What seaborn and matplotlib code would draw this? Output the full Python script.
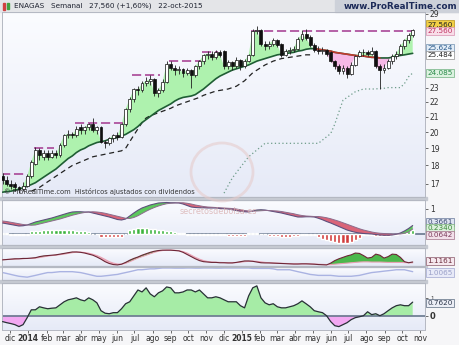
import numpy as np
import pandas as pd
import matplotlib
matplotlib.use("Agg")
import matplotlib.pyplot as plt
from matplotlib.ticker import NullLocator
from matplotlib.patches import Rectangle, Ellipse
from matplotlib.colors import LinearSegmentedColormap
import seaborn as sns

sns.set_theme(style="white")
plt.rcParams['font.family'] = ['DejaVu Sans']

nan = np.nan
weeks = pd.date_range('2013-11-18', periods=101, freq='W-MON')

opens = [17.4,17.2,17.0,17.0,16.8,16.7,16.9,17.4,18.1,18.9,
 18.5,18.7,18.5,18.7,18.6,19.2,19.8,19.9,19.8,20.3,
 20.1,20.3,20.5,20.1,20.3,19.4,19.3,19.6,19.8,19.7,
 20.5,21.5,22.2,22.9,22.8,23.3,23.5,23.6,22.6,22.8,
 23.4,24.8,24.5,24.3,24.4,24.1,24.3,23.9,24.6,25.0,
 25.5,25.6,25.3,25.7,25.8,24.6,24.9,24.6,25.1,24.6,
 25.0,25.5,27.5,27.6,26.4,26.2,26.4,26.7,26.4,25.5,
 25.8,25.9,26.0,26.8,27.2,27.0,26.3,25.9,25.8,25.9,
 25.7,25.0,24.6,24.2,24.5,24.0,24.7,25.4,25.7,25.7,
 25.6,25.8,24.6,24.3,24.5,25.0,25.4,25.6,26.2,26.7,
 27.1]
highs = [17.6,17.4,17.2,17.1,16.9,17.1,17.5,18.3,19.1,19.0,
 18.9,18.9,18.9,18.9,19.3,19.9,20.1,20.0,20.4,20.5,
 20.4,20.6,20.9,20.4,20.4,19.5,19.7,19.9,20.0,20.6,
 21.6,22.3,23.0,23.1,23.5,23.8,23.9,23.7,23.0,23.6,
 25.0,25.0,24.7,24.6,24.5,24.5,24.4,24.7,25.1,25.6,
 25.8,25.8,25.9,25.9,25.9,25.1,25.0,25.3,25.2,25.2,
 25.6,27.7,27.9,27.7,26.6,26.6,26.9,26.8,26.5,26.0,
 26.1,26.2,27.0,27.6,27.7,27.1,26.5,26.2,26.1,26.0,
 25.8,25.1,24.8,24.7,24.6,24.9,25.5,25.9,26.0,25.9,
 26.1,25.9,24.8,24.8,25.2,25.6,25.8,26.4,26.8,27.3,
 27.7]
lows = [17.0,16.9,16.7,16.6,16.5,16.6,16.8,17.3,18.0,18.3,
 18.3,18.3,18.4,18.4,18.5,19.1,19.6,19.6,19.7,19.9,
 19.9,20.1,20.0,19.9,19.3,19.0,19.2,19.4,19.5,19.6,
 20.4,21.3,22.0,22.5,22.7,23.1,23.2,22.4,22.3,22.7,
 23.3,24.3,23.9,24.0,23.8,23.9,23.0,23.8,24.4,24.8,
 25.2,25.1,25.2,25.3,24.4,24.4,24.3,24.5,24.3,24.5,
 24.9,25.4,27.2,26.2,25.9,26.0,26.2,26.1,25.3,25.4,
 25.6,25.7,25.9,26.6,26.7,26.1,25.7,25.6,25.6,25.4,
 24.9,24.4,24.0,24.0,23.7,23.9,24.6,25.3,25.4,25.4,
 25.5,24.5,22.9,24.1,24.4,24.8,25.2,25.5,26.0,26.5,
 27.0]
closes = [17.2,17.0,16.9,16.8,16.7,16.9,17.4,18.2,18.9,18.6,
 18.7,18.5,18.7,18.6,19.2,19.8,19.9,19.8,20.2,20.1,
 20.3,20.5,20.1,20.3,19.4,19.3,19.6,19.8,19.7,20.5,
 21.5,22.2,22.9,22.8,23.3,23.5,23.6,22.6,22.8,23.4,
 24.8,24.5,24.3,24.4,24.1,24.3,23.9,24.6,25.0,25.5,
 25.6,25.3,25.7,25.5,24.6,24.9,24.6,25.1,24.6,25.0,
 25.5,27.5,27.6,26.4,26.2,26.4,26.7,26.3,25.5,25.8,
 25.9,26.0,26.8,27.2,26.9,26.3,25.9,25.8,25.9,25.6,
 25.0,24.6,24.2,24.5,24.0,24.7,25.4,25.7,25.7,25.6,
 25.8,24.6,24.3,24.5,25.0,25.4,25.6,26.2,26.7,27.1,
 27.56]
avg_line = [16.55,16.58,16.6,16.65,16.7,16.78,16.86,16.95,17.05,17.2,
 17.35,17.5,17.65,17.8,18.0,18.2,18.4,18.55,18.75,18.9,
 19.0,19.15,19.25,19.35,19.4,19.45,19.55,19.6,19.65,19.75,
 19.85,20.0,20.15,20.35,20.6,20.8,21.0,21.2,21.4,21.55,
 21.7,21.85,22.05,22.2,22.3,22.35,22.4,22.5,22.7,22.9,
 23.15,23.4,23.65,23.85,24.0,24.15,24.3,24.4,24.5,24.6,
 24.7,24.85,25.0,25.1,25.2,25.3,25.4,25.5,25.55,25.6,
 25.65,25.7,25.8,25.85,25.95,26.0,26.0,25.95,25.9,25.85,
 25.8,25.7,25.65,25.6,25.55,25.5,25.45,25.4,25.4,25.35,
 25.3,25.3,25.25,25.25,25.25,25.3,25.4,25.45,25.5,25.56,
 25.62]
trail_stop = [nan]*7 + [16.6,16.7,16.8,16.95,17.1,17.25,17.4,17.55,17.7,17.85,
 18.0,18.1,18.2,18.3,18.4,18.5,18.55,18.6,18.65,18.7,
 18.75,18.8,18.85,19.0,19.4,19.8,20.2,20.6,20.9,21.05,
 21.15,21.25,21.35,21.45,21.55,21.7,21.8,21.9,22.0,22.1,
 22.2,22.3,22.45,22.55,22.65,22.75,22.8,22.85,22.9,23.0,
 23.1,23.3,23.5,23.8,24.1,24.3,24.5,24.7,24.85,25.0,
 25.1,25.2,25.25,25.3,25.35,25.4,25.45,25.5,25.5] + [nan]*25
long_stop = [nan]*54 + [16.5,16.9,17.3,17.6,17.9,18.2,18.5,18.7,18.9,19.1,
 19.3,19.3,19.3,19.3,19.3,19.3,19.3,19.3,19.3,19.3,
 19.3,19.3,19.3,19.3,19.5,19.7,19.9,20.5,21.3,22.1,
 22.3,22.5,22.7,22.8,22.9,22.9,22.9,22.9,22.95,22.95,
 23.0,23.0,23.0,23.0,23.3,23.8,24.085]
resistance = ([17.5]*6 + [nan]*2 + [19.0]*5 + [nan]*5 + [20.6]*12 + [nan]*2 +
              [23.9]*7 + [nan]*2 + [25.0]*8 + [25.75]*4 + [nan]*8 + [27.5]*40)

macd = [0.44,0.41,0.38,0.35,0.32,0.33,0.36,0.42,0.48,0.52,
 0.56,0.60,0.64,0.69,0.74,0.79,0.84,0.88,0.89,0.89,
 0.88,0.88,0.84,0.80,0.76,0.72,0.68,0.63,0.58,0.56,
 0.60,0.72,0.84,0.95,1.04,1.10,1.16,1.20,1.24,1.25,
 1.26,1.25,1.25,1.24,1.20,1.14,1.08,1.06,1.05,1.05,
 1.04,1.04,1.04,1.02,1.01,1.00,0.97,0.94,0.91,0.89,
 0.88,0.92,0.96,0.97,0.96,0.93,0.90,0.87,0.84,0.80,
 0.76,0.72,0.68,0.68,0.69,0.69,0.68,0.63,0.57,0.50,
 0.44,0.37,0.30,0.23,0.16,0.11,0.07,0.04,0.02,0.01,
 0.00,-0.02,-0.04,-0.05,-0.05,-0.04,-0.01,0.04,0.12,0.22,
 0.34]
signal = [0.52,0.50,0.47,0.44,0.41,0.38,0.36,0.35,0.36,0.40,
 0.44,0.48,0.52,0.56,0.60,0.65,0.70,0.75,0.79,0.83,
 0.86,0.88,0.89,0.88,0.86,0.83,0.79,0.75,0.71,0.67,
 0.63,0.62,0.66,0.73,0.82,0.91,0.99,1.06,1.12,1.17,
 1.21,1.23,1.24,1.25,1.25,1.23,1.20,1.16,1.13,1.10,
 1.08,1.07,1.06,1.05,1.04,1.03,1.02,1.00,0.97,0.94,
 0.92,0.91,0.92,0.93,0.94,0.94,0.93,0.92,0.90,0.87,
 0.84,0.81,0.77,0.74,0.72,0.71,0.70,0.70,0.68,0.65,
 0.61,0.56,0.51,0.45,0.39,0.33,0.27,0.21,0.16,0.12,
 0.08,0.05,0.03,0.02,0.01,0.00,0.00,0.00,0.03,0.08,
 0.20]
histogram = [0.04,0.04,-0.03,-0.03,-0.03,-0.03,-0.02,0.12,0.14,0.14,
 0.15,0.15,0.16,0.15,0.15,0.15,0.16,0.15,0.14,0.13,
 0.12,0.10,0.0,0.0,-0.10,-0.12,-0.12,-0.12,-0.11,-0.10,
 0.0,0.16,0.20,0.24,0.24,0.23,0.22,0.20,0.18,0.16,
 0.14,0.12,0.08,0.05,0.03,-0.04,-0.05,-0.05,-0.05,-0.04,
 -0.05,-0.05,-0.04,-0.05,-0.05,-0.06,-0.08,-0.08,-0.08,-0.06,
 0.04,0.04,0.04,0.0,0.0,-0.06,-0.08,-0.08,-0.10,-0.10,
 -0.10,-0.09,-0.08,-0.04,-0.04,-0.04,-0.04,-0.12,-0.18,-0.22,
 -0.26,-0.30,-0.34,-0.36,-0.34,-0.30,-0.24,-0.16,-0.04,-0.04,
 -0.05,-0.06,-0.07,-0.07,-0.06,-0.05,-0.04,0.04,0.08,0.12,
 0.16]

osc_fast = [1.7,1.8,1.9,2.0,2.0,2.1,2.1,2.2,2.3,2.6,
 2.8,2.9,3.0,3.1,3.3,3.5,3.7,3.9,3.9,3.8,
 3.6,3.3,3.0,2.5,1.9,1.2,0.7,0.4,0.3,0.5,
 1.0,1.6,2.1,2.5,3.0,3.4,3.8,4.1,4.3,4.4,
 4.4,4.4,4.3,4.2,3.8,3.2,2.6,2.0,1.5,1.2,
 1.1,1.0,1.0,0.9,0.9,0.85,0.85,1.0,1.2,1.4,
 1.4,1.3,1.1,0.9,0.85,0.85,0.8,0.75,0.7,0.65,
 0.6,0.55,0.55,0.6,0.6,0.55,0.5,0.4,0.35,0.3,
 0.8,1.5,2.0,2.4,2.8,3.1,3.6,3.5,2.9,2.2,
 2.4,3.3,3.0,2.2,2.6,3.3,3.2,2.4,1.2,0.9,
 1.12]
osc_slow = [1.8,1.8,1.85,1.9,2.0,2.0,2.1,2.1,2.2,2.35,
 2.55,2.75,2.9,3.0,3.15,3.3,3.5,3.7,3.85,3.85,
 3.75,3.55,3.25,2.9,2.4,1.8,1.2,0.8,0.55,0.5,
 0.75,1.2,1.7,2.2,2.6,3.0,3.4,3.8,4.1,4.3,
 4.4,4.4,4.35,4.25,4.0,3.6,3.0,2.4,1.9,1.5,
 1.25,1.1,1.05,1.0,0.95,0.9,0.9,0.95,1.05,1.2,
 1.3,1.35,1.3,1.15,1.0,0.9,0.85,0.8,0.75,0.7,
 0.65,0.6,0.6,0.6,0.6,0.6,0.55,0.5,0.45,0.4,
 0.4,0.5,0.6,0.7,0.8,0.9,1.0,1.1,1.15,1.15,
 1.1,1.1,1.1,1.05,1.0,1.0,1.0,1.0,0.95,0.9,
 0.9]
volat = [1.0,0.88,0.75,0.62,0.5,0.44,0.38,0.5,0.62,0.75,
 0.88,1.0,1.0,1.06,1.12,1.12,1.12,1.12,1.06,1.0,
 0.88,0.75,0.62,0.5,0.5,0.56,0.62,0.69,0.75,0.88,
 1.0,1.12,1.25,1.38,1.38,1.44,1.5,1.5,1.56,1.62,
 1.62,1.62,1.6,1.6,1.6,1.62,1.62,1.6,1.6,1.62,
 1.62,1.62,1.6,1.6,1.62,1.62,1.62,1.62,1.62,1.62,
 1.62,1.56,1.56,1.56,1.56,1.56,1.5,1.38,1.38,1.38,
 1.38,1.25,1.12,1.0,0.88,0.75,0.69,0.62,0.62,0.62,
 0.62,0.56,0.5,0.5,0.5,0.5,0.56,0.62,0.75,0.88,
 1.0,1.06,1.12,1.19,1.25,1.31,1.38,1.38,1.38,1.25,
 1.12]
momentum = [-0.33,-0.39,-0.44,-0.5,-0.61,-0.5,-0.11,0.33,0.33,0.5,
 0.44,0.39,0.42,0.44,0.61,0.78,0.89,0.94,1.0,0.89,
 0.83,1.0,0.89,0.72,0.28,0.14,0.11,0.17,0.17,0.39,
 0.67,0.78,1.11,1.44,1.33,1.56,1.22,1.06,1.28,1.39,
 1.61,1.56,1.28,1.28,1.33,1.44,1.44,1.33,1.44,1.22,
 1.0,1.0,1.06,1.0,0.89,0.78,0.78,0.78,0.56,0.44,
 1.11,1.56,1.67,1.0,0.72,0.61,0.67,0.5,0.44,0.44,
 0.5,0.56,0.67,0.83,0.67,0.5,0.28,0.22,0.17,0.0,
 -0.33,-0.56,-0.61,-0.5,-0.39,-0.22,-0.11,-0.06,0.0,0.22,
 0.06,0.11,0.0,0.11,0.28,0.44,0.56,0.61,0.56,0.56,
 0.76]

month_ticks = pd.date_range('2013-12-01', periods=24, freq='MS')
month_labels = ['dic','2014','feb','mar','abr','may','jun','jul','ago','sep','oct','nov',
                'dic','2015','feb','mar','abr','may','jun','jul','ago','sep','oct','nov']
price_ticks = [17, 18, 19, 20, 21, 22, 23, 29]

# ---------------------------------------------------------------- figure
o = np.array(opens); h = np.array(highs); l = np.array(lows); c = np.array(closes)
ma = np.array(avg_line)
W, H = 460, 345
fig = plt.figure(figsize=(W/100, H/100), dpi=100)
fig.patch.set_facecolor('#f6f6f8')

def fax(x0, y0, x1, y1):
    return [x0/W, 1 - y1/H, (x1-x0)/W, (y1-y0)/H]

PX0, PX1 = 2, 425
panel_px = [(12, 197), (200, 245), (248, 266), (267, 280), (283, 330)]
grad_cmap = LinearSegmentedColormap.from_list('bg', ['#fbfcff', '#e6eaf7'])
grad = np.linspace(0, 1, 64).reshape(-1, 1)
for (y0, y1) in panel_px:
    bg = fig.add_axes(fax(PX0, y0, PX1, y1), zorder=-5)
    bg.imshow(grad, aspect='auto', cmap=grad_cmap, extent=[0, 1, 0, 1], origin='upper')
    bg.set_axis_off()

ax = fig.add_axes(fax(PX0, *panel_px[0]) if False else fax(PX0, 12, PX1, 197))
axm = fig.add_axes(fax(PX0, 200, PX1, 245))
ax3 = fig.add_axes(fax(PX0, 248, PX1, 266))
ax3b = fig.add_axes(fax(PX0, 267, PX1, 280))
ax4 = fig.add_axes(fax(PX0, 283, PX1, 330))

# bands and header
for (y0, y1) in [(197, 200), (245, 248), (266, 267), (280, 283)]:
    fig.add_artist(Rectangle((0, 1-y1/H), PX1/W + 0.004, (y1-y0)/H, transform=fig.transFigure,
                             color='#c5c9d1', zorder=0))
fig.add_artist(Rectangle((0, 1-12/H), 1, 12/H, transform=fig.transFigure, color='#e4e5e8', zorder=0))
fig.add_artist(Rectangle((335/W, 1-12/H), 1, 12/H, transform=fig.transFigure, color='#cdd1d9', zorder=0))
fig.add_artist(Rectangle((3/W, 1-10/H), 2/W, 7/H, transform=fig.transFigure, color='#d04040', zorder=1))
fig.add_artist(Rectangle((7/W, 1-9/H), 2/W, 6/H, transform=fig.transFigure, color='#40a040', zorder=1))
fig.text(14/W, 1-6/H, 'ENAGAS   Semanal   27,560 (+1,60%)   22-oct-2015', fontsize=5.2,
         color='#1e2230', va='center', ha='left')
fig.text(457/W, 1-6.5/H, 'www.ProRealTime.com', fontsize=6.3, color='#1c2a58',
         va='center', ha='right', fontweight='bold')

xlim = (pd.Timestamp('2013-11-17'), pd.Timestamp('2015-11-09'))
for a in (ax, axm, ax3, ax3b, ax4):
    a.set_facecolor('none')
    a.set_xlim(*xlim)
    for s in a.spines.values():
        s.set_color('#b4b8c2'); s.set_linewidth(0.7)
    a.yaxis.tick_right()
    a.tick_params(axis='y', labelsize=5.5, length=2, width=0.5, pad=1.5, colors='#333333')
    a.set_xticks([])
    a.set_xlabel(''); a.set_ylabel('')

# ---------------------------------------------------------------- main price panel
ax.set_yscale('log')
ax.fill_between(weeks, c, ma, where=c >= ma, interpolate=True, color='#aef2ae', lw=0, zorder=1)
ax.fill_between(weeks, c, ma, where=c < ma, interpolate=True, color='#f6b8e6', lw=0, zorder=1)
sns.lineplot(x=weeks, y=ma, ax=ax, color='#1f5e34', lw=1.2, zorder=3)
falling = np.r_[False, np.diff(ma) < 0]
falling_seg = falling | np.r_[falling[1:], False]
ma_red = np.where(falling_seg, ma, np.nan)
ax.plot(weeks, ma_red, color='#c23a2e', lw=1.2, zorder=3.1)
ax.plot(weeks, trail_stop, color='#222222', lw=0.9, dashes=(4, 3), zorder=2)
ax.plot(weeks, long_stop, color='#6e9c8a', lw=0.9, dashes=(1, 2), zorder=2)
res = np.array(resistance, dtype=float)
i = 0
while i < len(res):
    if np.isnan(res[i]):
        i += 1; continue
    j = i
    while j + 1 < len(res) and res[j+1] == res[i]:
        j += 1
    ax.plot([weeks[i] - pd.Timedelta(days=3), weeks[j] + pd.Timedelta(days=3)], [res[i], res[i]],
            color='#a3378e', lw=1.1, dashes=(6, 2.5), zorder=2.5)
    i = j + 1
up = c >= o
ax.vlines(weeks, l, h, color='#202020', lw=0.6, zorder=4)
ax.bar(weeks, np.maximum(np.abs(c - o), 0.05), bottom=np.minimum(o, c), width=5,
       color=np.where(up, '#ffffff', '#101010'), edgecolor='#101010', linewidth=0.5, zorder=5)
ax.set_ylim(16.3, 29.18)
ax.set_yticks(price_ticks)
ax.set_yticklabels([str(t) for t in price_ticks])
ax.yaxis.set_minor_locator(NullLocator())
ax.set_xticks([])
ax.text(0.004, 0.01, '© ProRealTime.com  Históricos ajustados con dividendos', transform=ax.transAxes,
        fontsize=4.8, color='#333333', va='bottom', ha='left')

def box(a, val, txt, fc, ec, tc):
    a.text(1.006, val, txt, transform=a.get_yaxis_transform(), fontsize=5.2, color=tc,
           va='center', ha='left', clip_on=False,
           bbox=dict(boxstyle='square,pad=0.15', fc=fc, ec=ec, lw=0.5))

box(ax, 28.05, '27.560', '#f1cf45', '#b89418', '#202020')
box(ax, 27.48, '27.560', '#f8dde8', '#d890b0', '#c03060')
box(ax, 26.04, '25.624', '#e2ecf6', '#7090b0', '#2a5a8a')
box(ax, 25.5, '25.484', '#ffffff', '#909090', '#202020')
box(ax, 24.085, '24.085', '#dcf2e0', '#70b080', '#2a8a4a')

# watermark
fig.add_artist(Ellipse((222/W, 1-172/H), 62/W, 58/H, transform=fig.transFigure, fill=False,
                       ec='#e6cccc', lw=2.0, alpha=0.6, zorder=6))
fig.text(218/W, 1-211/H, 'secretosdebolsa.es', fontsize=5.8, color='#d9b0b0', alpha=0.8,
         ha='center', va='center', zorder=6)

# ---------------------------------------------------------------- MACD panel
m = np.array(macd); sg = np.array(signal); hist = np.array(histogram)
axm.axhline(0, color='#66768c', lw=1.2, zorder=1)
axm.bar(weeks, hist, width=5.5, color=np.where(hist >= 0, '#3cb43c', '#d23c3c'), zorder=2)
axm.fill_between(weeks, m, sg, where=m >= sg, interpolate=True, color='#5cc85c', lw=0, zorder=3)
axm.fill_between(weeks, m, sg, where=m < sg, interpolate=True, color='#da6478', lw=0, zorder=3)
sns.lineplot(x=weeks, y=m, ax=axm, color='#5e4f7c', lw=0.8, zorder=4)
sns.lineplot(x=weeks, y=sg, ax=axm, color='#8c6c8c', lw=0.7, zorder=4)
axm.set_ylim(-0.44, 1.36)
axm.set_yticks([1]); axm.set_yticklabels(['1'])
axm.set_xticks([]); axm.set_xlabel(''); axm.set_ylabel('')
box(axm, 0.48, '0.3661', '#dfe4f2', '#6a7a9a', '#3a4a70')
box(axm, 0.24, '0.2340', '#dcf0dc', '#7ab07a', '#3a8a3a')
box(axm, -0.04, '0.0642', '#f2e0ea', '#a07088', '#7a3a5a')

# ---------------------------------------------------------------- oscillator panel
fa = np.array(osc_fast); sl = np.array(osc_slow)
ax3.fill_between(weeks, fa, sl, where=fa >= sl, interpolate=True, color='#4cb84c', lw=0, zorder=2)
ax3.fill_between(weeks, fa, sl, where=fa < sl, interpolate=True, color='#f0b4c4', lw=0, zorder=2)
sns.lineplot(x=weeks, y=sl, ax=ax3, color='#e8a0b2', lw=0.8, zorder=3)
sns.lineplot(x=weeks, y=fa, ax=ax3, color='#6c2636', lw=0.8, zorder=4)
ax3.set_ylim(0, 5)
ax3.set_yticks([]); ax3.set_xticks([]); ax3.set_xlabel(''); ax3.set_ylabel('')
box(ax3, 1.4, '1.1161', '#f6e8ee', '#8a5a6a', '#6a2a3a')

sns.lineplot(x=weeks, y=volat, ax=ax3b, color='#aab3e2', lw=1.0)
ax3b.set_ylim(0, 1.75)
ax3b.set_yticks([]); ax3b.set_xticks([]); ax3b.set_xlabel(''); ax3b.set_ylabel('')
box(ax3b, 1.0, '1.0065', '#e8eaf8', '#a0a6d0', '#9aa0c8')

# ---------------------------------------------------------------- momentum panel
mo = np.array(momentum)
ax4.fill_between(weeks, mo, 0, where=mo >= 0, interpolate=True, color='#a6eca6', lw=0, zorder=1)
ax4.fill_between(weeks, mo, 0, where=mo < 0, interpolate=True, color='#f2a8f2', lw=0, zorder=1)
ax4.axhline(0, color='#66768c', lw=1.2, zorder=2)
sns.lineplot(x=weeks, y=mo, ax=ax4, color='#283036', lw=0.9, zorder=3)
ax4.set_ylim(-0.8, 1.83)
ax4.set_yticks([0, 1]); ax4.set_yticklabels(['0', '1'])
ax4.get_yticklabels()[0].set_fontweight('bold')
ax4.get_yticklabels()[0].set_fontsize(6)
ax4.get_yticklabels()[1].set_fontsize(4)
box(ax4, 0.72, '0.7620', '#eceef6', '#5a6a80', '#2a3448')
ax4.set_xlim(*xlim)
ax4.set_xticks(month_ticks)
ax4.set_xticklabels(month_labels)
ax4.tick_params(axis='x', labelsize=5.5, length=2, width=0.5, pad=1.0, colors='#333333', bottom=True)
for lab in ax4.get_xticklabels():
    if lab.get_text() in ('2014', '2015'):
        lab.set_fontweight('bold')
ax4.set_xlabel(''); ax4.set_ylabel('')

fig.savefig('out.png', dpi=100, facecolor=fig.get_facecolor())
